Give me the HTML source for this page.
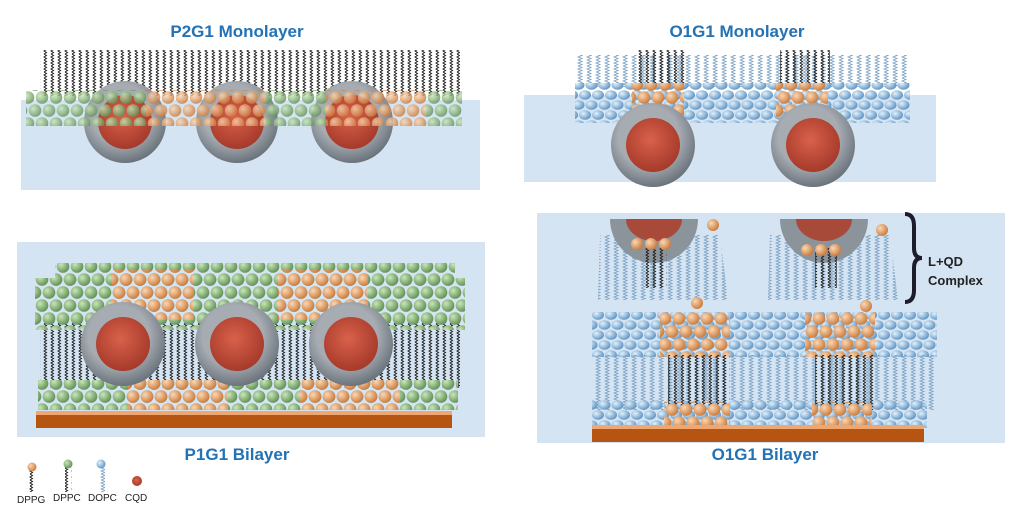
<!DOCTYPE html>
<html><head><meta charset="utf-8">
<style>
html,body{margin:0;padding:0;background:#fff;width:1024px;height:519px;overflow:hidden}
svg{display:block}
.t{font-family:"Liberation Sans",sans-serif;font-weight:bold;fill:#2272b4;font-size:17px}
.l{font-family:"Liberation Sans",sans-serif;fill:#222;font-size:10px}
</style></head><body>
<svg width="1024" height="519" viewBox="0 0 1024 519" xmlns="http://www.w3.org/2000/svg">
<defs>
<radialGradient id="gG" cx="0.35" cy="0.35" r="0.7"><stop offset="0" stop-color="#c9e6b8"/><stop offset="1" stop-color="#5e8f52"/></radialGradient>
<radialGradient id="gO" cx="0.35" cy="0.35" r="0.7"><stop offset="0" stop-color="#fbd7b4"/><stop offset="1" stop-color="#c9793a"/></radialGradient>
<radialGradient id="gB" cx="0.35" cy="0.35" r="0.7"><stop offset="0" stop-color="#e2f1fb"/><stop offset="1" stop-color="#5b92c2"/></radialGradient>
<radialGradient id="gS" cx="0.45" cy="0.4" r="0.6"><stop offset="0.6" stop-color="#a7acb2"/><stop offset="1" stop-color="#6b737c"/></radialGradient>
<radialGradient id="gR" cx="0.45" cy="0.4" r="0.6"><stop offset="0" stop-color="#d9614a"/><stop offset="1" stop-color="#a63a2b"/></radialGradient>
<pattern id="tk" width="7" height="6" patternUnits="userSpaceOnUse"><path d="M2 0 L4.5 1.5 L2 3 L4.5 4.5 L2 6" stroke="#222" stroke-width="1" fill="none"/></pattern>
<pattern id="tb" width="9" height="6" patternUnits="userSpaceOnUse"><path d="M2 0 L6 1.5 L2 3 L6 4.5 L2 6" stroke="#7ea3c4" stroke-width="0.9" fill="none"/></pattern>
<pattern id="pG" width="14" height="26" patternUnits="userSpaceOnUse"><circle cx="7" cy="6.5" r="6.3" fill="url(#gG)"/><circle cx="0" cy="19.5" r="6.3" fill="url(#gG)"/><circle cx="14" cy="19.5" r="6.3" fill="url(#gG)"/></pattern>
<pattern id="pO" width="14" height="26" patternUnits="userSpaceOnUse"><circle cx="7" cy="6.5" r="6.3" fill="url(#gO)"/><circle cx="0" cy="19.5" r="6.3" fill="url(#gO)"/><circle cx="14" cy="19.5" r="6.3" fill="url(#gO)"/></pattern>
<pattern id="pB" width="13" height="20" patternUnits="userSpaceOnUse"><ellipse cx="6.5" cy="5" rx="6" ry="4.8" fill="url(#gB)"/><ellipse cx="0" cy="15" rx="6" ry="4.8" fill="url(#gB)"/><ellipse cx="13" cy="15" rx="6" ry="4.8" fill="url(#gB)"/></pattern>
</defs>

<text class="t" x="237" y="37" text-anchor="middle">P2G1 Monolayer</text>
<text class="t" x="737" y="37" text-anchor="middle">O1G1 Monolayer</text>
<text class="t" x="237" y="460" text-anchor="middle">P1G1 Bilayer</text>
<text class="t" x="765" y="460" text-anchor="middle">O1G1 Bilayer</text>

<!-- Panel 1 -->
<rect x="21" y="100" width="459" height="90" fill="#d5e4f3"/>
<rect x="40" y="50" width="420" height="46" fill="url(#tk)"/>
<circle cx="125" cy="122" r="41" fill="url(#gS)"/><circle cx="125" cy="122" r="27" fill="url(#gR)"/>
<circle cx="237" cy="122" r="41" fill="url(#gS)"/><circle cx="237" cy="122" r="27" fill="url(#gR)"/>
<circle cx="352" cy="122" r="41" fill="url(#gS)"/><circle cx="352" cy="122" r="27" fill="url(#gR)"/>
<g opacity="0.8">
<rect x="26" y="90" width="120" height="36" fill="url(#pG)"/>
<rect x="146" y="90" width="120" height="36" fill="url(#pO)"/>
<rect x="266" y="90" width="60" height="36" fill="url(#pG)"/>
<rect x="326" y="90" width="100" height="36" fill="url(#pO)"/>
<rect x="426" y="90" width="36" height="36" fill="url(#pG)"/>
</g>

<!-- Panel 2 -->
<rect x="524" y="95" width="412" height="87" fill="#d5e4f3"/>
<rect x="575" y="55" width="335" height="32" fill="url(#tb)"/>
<rect x="636" y="50" width="50" height="36" fill="url(#tk)"/>
<rect x="780" y="50" width="50" height="36" fill="url(#tk)"/>
<rect x="575" y="83" width="335" height="40" fill="url(#pB)"/>
<rect x="632" y="83" width="52" height="40" fill="url(#pO)"/>
<rect x="776" y="83" width="52" height="40" fill="url(#pO)"/>
<circle cx="653" cy="145" r="42" fill="url(#gS)"/><circle cx="653" cy="145" r="27" fill="url(#gR)"/>
<circle cx="813" cy="145" r="42" fill="url(#gS)"/><circle cx="813" cy="145" r="27" fill="url(#gR)"/>

<!-- Panel 3 -->
<rect x="17" y="242" width="468" height="195" fill="#d5e4f3"/>
<rect x="40" y="318" width="420" height="70" fill="url(#tk)"/>
<rect x="35" y="278" width="430" height="52" fill="url(#pG)"/>
<rect x="55" y="263" width="400" height="26" fill="url(#pG)"/>
<rect x="112" y="270" width="82" height="50" fill="url(#pO)"/>
<rect x="278" y="270" width="90" height="50" fill="url(#pO)"/>
<rect x="38" y="380" width="420" height="30" fill="url(#pG)"/>
<rect x="128" y="380" width="100" height="30" fill="url(#pO)"/>
<rect x="300" y="380" width="100" height="30" fill="url(#pO)"/>
<circle cx="123" cy="344" r="42" fill="url(#gS)"/><circle cx="123" cy="344" r="27" fill="url(#gR)"/>
<circle cx="237" cy="344" r="42" fill="url(#gS)"/><circle cx="237" cy="344" r="27" fill="url(#gR)"/>
<circle cx="351" cy="344" r="42" fill="url(#gS)"/><circle cx="351" cy="344" r="27" fill="url(#gR)"/>
<rect x="36" y="411" width="416" height="4" fill="#f0a670"/>
<rect x="36" y="415" width="416" height="13" fill="#b65411"/>

<!-- Panel 4 -->
<rect x="537" y="213" width="468" height="230" fill="#d5e4f3"/>
<path d="M600 235 L720 235 L728 300 L598 300 Z" fill="url(#tb)"/>
<path d="M770 235 L890 235 L898 300 L768 300 Z" fill="url(#tb)"/>
<path d="M610 219 A44 44 0 0 0 698 219 Z" fill="#8b939b"/><path d="M626 219 A28 22 0 0 0 682 219 Z" fill="#a74a3a"/>
<path d="M780 219 A44 44 0 0 0 868 219 Z" fill="#8b939b"/><path d="M796 219 A28 22 0 0 0 852 219 Z" fill="#a74a3a"/>
<rect x="645" y="248" width="22" height="40" fill="url(#tk)"/>
<rect x="815" y="248" width="22" height="40" fill="url(#tk)"/>
<circle cx="637" cy="244" r="6" fill="url(#gO)"/><circle cx="651" cy="244" r="6" fill="url(#gO)"/><circle cx="665" cy="244" r="6" fill="url(#gO)"/>
<circle cx="807" cy="250" r="6" fill="url(#gO)"/><circle cx="821" cy="250" r="6" fill="url(#gO)"/><circle cx="835" cy="250" r="6" fill="url(#gO)"/>
<circle cx="713" cy="225" r="6" fill="url(#gO)"/><circle cx="882" cy="230" r="6" fill="url(#gO)"/>
<circle cx="697" cy="303" r="6" fill="url(#gO)"/><circle cx="866" cy="306" r="6" fill="url(#gO)"/>
<rect x="592" y="312" width="345" height="45" fill="url(#pB)"/>
<rect x="595" y="355" width="340" height="55" fill="url(#tb)"/>
<rect x="592" y="400" width="335" height="28" fill="url(#pB)"/>
<rect x="660" y="312" width="70" height="45" fill="url(#pO)"/>
<rect x="805" y="312" width="70" height="45" fill="url(#pO)"/>
<rect x="668" y="355" width="62" height="55" fill="url(#tk)"/>
<rect x="815" y="355" width="60" height="55" fill="url(#tk)"/>
<rect x="664" y="402" width="66" height="24" fill="url(#pO)"/>
<rect x="812" y="402" width="60" height="24" fill="url(#pO)"/>
<rect x="592" y="425" width="332" height="4" fill="#f0a670"/>
<rect x="592" y="429" width="332" height="13" fill="#b65411"/>
<path d="M905 214 Q914 214 914 226 L914 248 Q914 258 922 258 Q914 258 914 268 L914 290 Q914 302 905 302" stroke="#1c1c2a" stroke-width="4" fill="none"/>
<text x="928" y="266" font-family="Liberation Sans,sans-serif" font-weight="bold" font-size="13" fill="#222">L+QD</text>
<text x="928" y="285" font-family="Liberation Sans,sans-serif" font-weight="bold" font-size="13" fill="#222">Complex</text>

<!-- Legend -->
<rect x="29" y="470" width="7" height="22" fill="url(#tk)"/><circle cx="32" cy="467" r="4.5" fill="url(#gO)"/>
<rect x="65" y="467" width="7" height="25" fill="url(#tk)"/><circle cx="68" cy="464" r="4.5" fill="url(#gG)"/>
<rect x="98" y="467" width="7" height="25" fill="url(#tb)"/><circle cx="101" cy="464" r="4.5" fill="url(#gB)"/>
<circle cx="137" cy="481" r="5" fill="url(#gR)"/>
<text class="l" x="17" y="503">DPPG</text>
<text class="l" x="53" y="501">DPPC</text>
<text class="l" x="88" y="501">DOPC</text>
<text class="l" x="125" y="501">CQD</text>
</svg>
</body></html>
